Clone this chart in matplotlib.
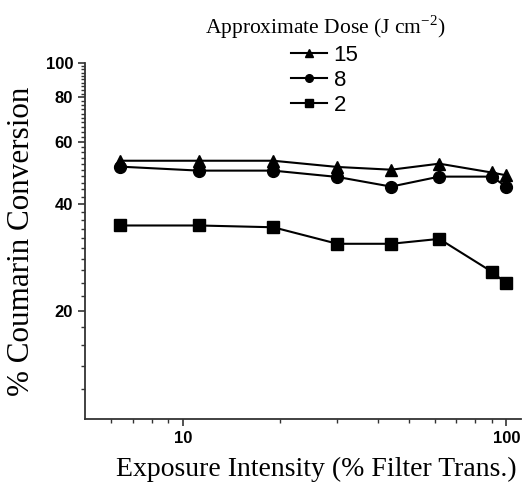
import numpy as np
import matplotlib
matplotlib.use('Agg')
import matplotlib.pyplot as plt
from matplotlib.ticker import FixedLocator, FixedFormatter, NullFormatter

# data
intensity = [6.4, 11.2, 19, 30, 44, 62, 90, 100]
dose_labels = ['15', '8', '2']
conv_15 = [53.0, 53.0, 53.0, 50.9, 50.0, 52.0, 49.1, 48.2]
conv_8 = [51.0, 49.7, 49.7, 47.7, 44.8, 47.8, 47.8, 44.8]
conv_2 = [34.8, 34.8, 34.4, 30.9, 30.9, 31.9, 25.8, 23.9]
y_major = [20, 40, 60, 80, 100]
x_major = [10, 100]

fig = plt.figure(figsize=(5.23, 4.84), dpi=100)
ax = fig.add_axes([85/523, 1-419/484, (521-85)/523, (419-63)/484])

series = [conv_15, conv_8, conv_2]
markers = ['^', 'o', 's']
for vals, m, lab in zip(series, markers, dose_labels):
    ax.plot(intensity, vals, color='black', lw=1.5, marker=m, ms=8.5,
            label=lab)

ax.set_xscale('log')
ax.set_yscale('log')
ax.set_xlim(4.97, 111)
ax.set_ylim(9.9, 100)

ax.yaxis.set_major_locator(FixedLocator(y_major))
ax.yaxis.set_minor_locator(FixedLocator([v for v in range(12, 100, 2) if v not in y_major]))
ax.yaxis.set_major_formatter(FixedFormatter([str(v) for v in y_major]))
ax.yaxis.set_minor_formatter(NullFormatter())
ax.xaxis.set_major_locator(FixedLocator(x_major))
ax.xaxis.set_major_formatter(FixedFormatter([str(v) for v in x_major]))
ax.xaxis.set_minor_locator(FixedLocator([6, 7, 8, 9, 20, 30, 40, 50, 60, 70, 80, 90]))
ax.xaxis.set_minor_formatter(NullFormatter())

for s in ['top', 'right']:
    ax.spines[s].set_visible(False)
for s in ['left', 'bottom']:
    ax.spines[s].set_linewidth(1.3)
    ax.spines[s].set_color('#333333')
ax.tick_params(which='major', direction='out', length=5, width=1.2, colors='#333333',
               labelcolor='black')
ax.tick_params(which='minor', direction='out', length=3, width=1.0, colors='#333333')
for t in ax.get_xticklabels() + ax.get_yticklabels():
    t.set_fontfamily('Liberation Sans')
    t.set_fontweight('bold')
    t.set_fontsize(12)

ax.set_xlabel('Exposure Intensity (% Filter Trans.)', family='Liberation Serif', fontsize=20)
ax.xaxis.set_label_coords((316-85)/436, -(457-419)/356)
ax.set_ylabel('% Coumarin Conversion', family='Liberation Serif', fontsize=22.4)
ax.yaxis.set_label_coords(-(85-36)/436, (419-241)/356)

leg = ax.legend(loc='upper center', bbox_to_anchor=(325/523, 1.0),
                bbox_transform=fig.transFigure,
                frameon=False, handlelength=1.6, handletextpad=0.3, fontsize=16,
                labelspacing=0.18, borderpad=0.1,
                title='Approximate Dose (J cm$^{\\mathregular{-2}}$)')
leg.get_title().set_fontfamily('Liberation Serif')
leg.get_title().set_fontsize(15.5)
leg._legend_box.sep = 3
for t in leg.get_texts():
    t.set_fontfamily('Liberation Sans')
for h in leg.legend_handles:
    h.set_markersize(5.5)

fig.savefig('out.png', dpi=100)
